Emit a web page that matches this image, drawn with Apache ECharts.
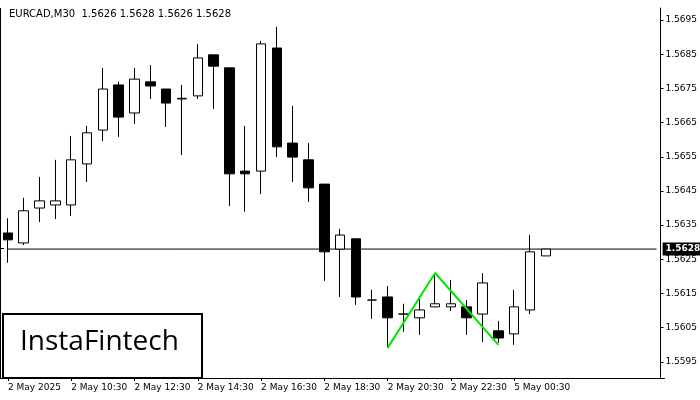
<!DOCTYPE html>
<html><head><meta charset="utf-8">
<script src="https://cdn.jsdelivr.net/npm/echarts@6/dist/echarts.min.js"></script>
<style>html,body{margin:0;padding:0;background:#fff}#c{width:700px;height:400px}</style>
</head><body><div id="c"></div>
<script>
const times = ['2 May 2025','2 May 09:00','2 May 09:30','2 May 10:00','2 May 10:30','2 May 11:00','2 May 11:30','2 May 12:00','2 May 12:30','2 May 13:00','2 May 13:30','2 May 14:00','2 May 14:30','2 May 15:00','2 May 15:30','2 May 16:00','2 May 16:30','2 May 17:00','2 May 17:30','2 May 18:00','2 May 18:30','2 May 19:00','2 May 19:30','2 May 20:00','2 May 20:30','2 May 21:00','2 May 21:30','2 May 22:00','2 May 22:30','2 May 23:00','2 May 23:30','5 May 00:00','5 May 00:30','5 May 01:00','5 May 01:30','','','','','','',''];
// [open, close, low, high]
const ohlc = [
[1.56327,1.56307,1.56240,1.56370],
[1.56298,1.56392,1.56292,1.56430],
[1.56400,1.56421,1.56359,1.56491],
[1.56409,1.56421,1.56368,1.56541],
[1.56409,1.56541,1.56377,1.56611],
[1.56529,1.56620,1.56476,1.56640],
[1.56628,1.56748,1.56596,1.56810],
[1.56760,1.56666,1.56608,1.56769],
[1.56678,1.56777,1.56646,1.56810],
[1.56769,1.56757,1.56719,1.56818],
[1.56748,1.56707,1.56637,1.56748],
[1.56719,1.56721,1.56555,1.56760],
[1.56728,1.56839,1.56719,1.56880],
[1.56848,1.56815,1.56690,1.56848],
[1.56810,1.56500,1.56406,1.56810],
[1.56508,1.56500,1.56389,1.56640],
[1.56508,1.56880,1.56441,1.56889],
[1.56868,1.56579,1.56549,1.56930],
[1.56590,1.56549,1.56476,1.56699],
[1.56541,1.56459,1.56418,1.56590],
[1.56470,1.56272,1.56187,1.56470],
[1.56280,1.56321,1.56140,1.56339],
[1.56310,1.56140,1.56117,1.56310],
[1.56131,1.56131,1.56076,1.56161],
[1.56140,1.56079,1.55991,1.56172],
[1.56090,1.56090,1.56038,1.56120],
[1.56079,1.56102,1.56029,1.56134],
[1.56111,1.56120,1.56111,1.56210],
[1.56111,1.56120,1.56099,1.56190],
[1.56111,1.56079,1.56029,1.56131],
[1.56090,1.56181,1.56008,1.56210],
[1.56041,1.56020,1.56006,1.56070],
[1.56032,1.56111,1.56000,1.56161],
[1.56102,1.56272,1.56090,1.56321],
[1.56260,1.56280,1.56260,1.56280]
];
const pattern = [[24,1.55991],[27,1.56210],[31,1.56000]];
const priceTicks = [1.5595,1.5605,1.5615,1.5625,1.5635,1.5645,1.5655,1.5665,1.5675,1.5685,1.5695];
const lastPrice = 1.5628;
const lastLine = [[0,lastPrice],[41,lastPrice]];
const title = 'EURCAD,M30  1.5626 1.5628 1.5626 1.5628';

const chart = echarts.init(document.getElementById('c'));
chart.setOption({
  animation:false,
  textStyle:{fontFamily:'DejaVu Sans'},
  title:{text:title,left:4,top:4,textStyle:{fontSize:10,fontWeight:'normal',color:'#000',fontFamily:'DejaVu Sans'}},
  grid:{left:-5,right:34,top:8,bottom:22},
  xAxis:{type:'category',data:times,boundaryGap:true,
    axisLine:{show:true,lineStyle:{color:'#000'}},
    axisTick:{show:true,interval:(i,v)=>i%4===0&&v!=='',alignWithLabel:true,length:3,lineStyle:{color:'#000'}},
    axisLabel:{interval:(i,v)=>i%4===0&&v!=='',align:'left',fontSize:9,color:'#000',margin:5,showMinLabel:true},
    splitLine:{show:false}},
  yAxis:{type:'value',position:'right',offset:-4,min:1.55903,max:1.56985,
    axisLine:{show:true,lineStyle:{color:'#000'}},
    axisTick:{show:true,length:3,customValues:priceTicks,lineStyle:{color:'#000'}},
    axisLabel:{customValues:priceTicks,fontSize:9,color:'#000',margin:5,formatter:v=>v.toFixed(4)},
    splitLine:{show:false}},
  series:[
    {type:'line',data:lastLine,symbol:'none',silent:true,z:1,lineStyle:{color:'#000',width:1},
     endLabel:{show:true,distance:6,formatter:()=>lastPrice.toFixed(4),backgroundColor:'#000',color:'#fff',fontSize:9,padding:[2,3],fontWeight:'bold'}},
    {type:'candlestick',data:ohlc,barWidth:10,z:3,
     itemStyle:{color:'#fff',color0:'#000',borderColor:'#000',borderColor0:'#000',borderWidth:1}},
    {type:'line',data:pattern,symbol:'none',lineStyle:{color:'#00e600',width:2},z:5}
  ],
  graphic:[
    {type:'rect',left:2,top:313,shape:{width:199,height:64},style:{fill:'#fff',stroke:'#000',lineWidth:2},z:100},
    {type:'text',left:20,top:328,style:{text:'InstaFintech',fontSize:28,fontWeight:500,fontFamily:'Open Sans',fill:'#000'},z:101},
    {type:'line',shape:{x1:0.5,y1:8,x2:0.5,y2:378},style:{stroke:'#000',lineWidth:1},z:50},
    {type:'line',shape:{x1:0,y1:248.5,x2:4,y2:248.5},style:{stroke:'#000',lineWidth:1},z:50}
  ]
});
</script></body></html>
